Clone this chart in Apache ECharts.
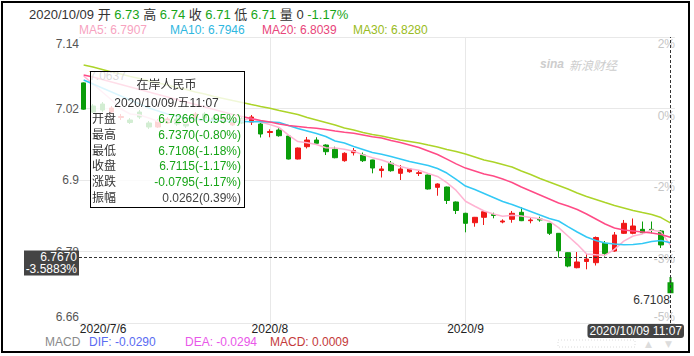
<!DOCTYPE html>
<html><head><meta charset="utf-8">
<script src="https://cdn.jsdelivr.net/npm/echarts@6/dist/echarts.min.js"></script>
<style>
html,body{margin:0;padding:0;background:#fff;}
#wrap{position:relative;width:694px;height:356px;overflow:hidden;background:#fff;}
#chart{position:absolute;left:0;top:0;width:684px;height:356px;}
#frame{position:absolute;left:1px;top:1px;width:689px;height:352px;border:2px solid #000;box-sizing:border-box;pointer-events:none;}
</style></head>
<body><div id="wrap"><div id="chart"></div><div id="frame"></div></div>
<script>
const FONT = '"Liberation Sans", Arial, "Noto Sans CJK SC", sans-serif';

const dates = [
'2020/07/06','2020/07/07','2020/07/08','2020/07/09','2020/07/10','2020/07/13','2020/07/14','2020/07/15','2020/07/16','2020/07/17',
'2020/07/20','2020/07/21','2020/07/22','2020/07/23','2020/07/24','2020/07/27','2020/07/28','2020/07/29','2020/07/30','2020/07/31',
'2020/08/03','2020/08/04','2020/08/05','2020/08/06','2020/08/07','2020/08/10','2020/08/11','2020/08/12','2020/08/13','2020/08/14',
'2020/08/17','2020/08/18','2020/08/19','2020/08/20','2020/08/21','2020/08/24','2020/08/25','2020/08/26','2020/08/27','2020/08/28',
'2020/08/31','2020/09/01','2020/09/02','2020/09/03','2020/09/04','2020/09/07','2020/09/08','2020/09/09','2020/09/10','2020/09/11',
'2020/09/14','2020/09/15','2020/09/16','2020/09/17','2020/09/18','2020/09/21','2020/09/22','2020/09/23','2020/09/24','2020/09/25',
'2020/09/28','2020/09/29','2020/09/30','2020/10/09'];

const open = [
7.0630,7.0242,7.0275,7.0141,7.0049,7.0007,7.0141,6.9957,6.9889,6.9957,
7.0024,6.9940,7.0007,7.0108,7.0040,6.9973,6.9923,7.0024,6.9973,6.9940,
6.9797,6.9839,6.9738,6.9352,6.9559,6.9671,6.9587,6.9515,6.9324,6.9458,
6.9419,6.9336,6.9159,6.9280,6.9112,6.9139,6.9109,6.9084,6.8877,6.8882,
6.8631,6.8441,6.8283,6.8374,6.8421,6.8295,6.8340,6.8458,6.8317,6.8345,
6.8273,6.8105,6.7780,6.7528,6.7632,6.7612,6.7937,6.7808,6.8105,6.8105,
6.8172,6.8172,6.8144,6.7266];
const close = [
7.0189,7.0141,7.0175,7.0208,7.0066,6.9965,7.0057,6.9889,6.9990,7.0024,
6.9940,6.9906,7.0108,7.0040,6.9990,7.0040,6.9990,6.9957,7.0057,6.9772,
6.9814,6.9743,6.9352,6.9537,6.9671,6.9616,6.9475,6.9374,6.9448,6.9495,
6.9324,6.9201,6.9185,6.9156,6.9185,6.9185,6.9122,6.8849,6.8933,6.8656,
6.8488,6.8273,6.8374,6.8468,6.8404,6.8312,6.8441,6.8317,6.8329,6.8329,
6.8105,6.7813,6.7556,6.7624,6.7674,6.8035,6.7766,6.8077,6.8273,6.8228,
6.8115,6.8161,6.7910,6.7115];
const low = [
7.0180,7.0124,7.0141,7.0108,7.0007,6.9940,7.0024,6.9856,6.9873,6.9940,
6.9906,6.9873,6.9990,7.0007,6.9957,6.9940,6.9906,6.9940,6.9923,6.9713,
6.9717,6.9727,6.9345,6.9345,6.9529,6.9587,6.9419,6.9364,6.9307,6.9411,
6.9302,6.9112,6.9042,6.9139,6.9000,6.9122,6.9067,6.8840,6.8736,6.8597,
6.8429,6.8122,6.8216,6.8245,6.8357,6.8273,6.8283,6.8310,6.8273,6.8300,
6.8077,6.7696,6.7535,6.7518,6.7501,6.7565,6.7716,6.7796,6.8094,6.8089,
6.8094,6.8105,6.7859,6.7108];
const high = [
7.0637,7.0275,7.0309,7.0242,7.0108,7.0040,7.0175,6.9990,7.0024,7.0057,
7.0057,6.9990,7.0141,7.0141,7.0074,7.0074,7.0024,7.0057,7.0091,6.9957,
6.9851,6.9868,6.9745,6.9545,6.9722,6.9717,6.9600,6.9559,6.9465,6.9537,
6.9461,6.9340,6.9235,6.9319,6.9252,6.9190,6.9168,6.9090,6.8944,6.8890,
6.8640,6.8450,6.8380,6.8485,6.8451,6.8340,6.8480,6.8542,6.8374,6.8384,
6.8280,6.8110,6.7785,6.7791,6.7758,6.8052,6.7976,6.8127,6.8329,6.8354,
6.8303,6.8303,6.8161,6.7370];

const ma5 = [
7.0745,7.0611,7.0477,7.0343,7.0192,7.0108,7.0091,7.0040,6.9982,6.9990,
6.9973,6.9948,6.9990,6.9999,6.9990,7.0007,7.0032,7.0007,7.0035,6.9975,
6.9930,6.9880,6.9752,6.9645,6.9625,6.9595,6.9540,6.9536,6.9515,6.9484,
6.9422,6.9375,6.9336,6.9280,6.9225,6.9190,6.9163,6.9110,6.9060,6.8955,
6.8825,6.8643,6.8560,6.8480,6.8430,6.8390,6.8410,6.8395,6.8370,6.8350,
6.8308,6.8200,6.8060,6.7920,6.7760,6.7745,6.7738,6.7835,6.7975,6.8060,
6.8095,6.8160,6.8130,6.7907];
const ma10 = [
7.0678,7.0611,7.0544,7.0477,7.0410,7.0343,7.0275,7.0208,7.0158,7.0108,
7.0074,7.0040,7.0024,7.0007,6.9999,6.9990,6.9982,6.9982,6.9978,6.9978,
6.9973,6.9965,6.9915,6.9864,6.9822,6.9780,6.9730,6.9655,6.9621,6.9562,
6.9512,6.9461,6.9431,6.9394,6.9352,6.9310,6.9277,6.9243,6.9193,6.9117,
6.9010,6.8899,6.8840,6.8773,6.8706,6.8639,6.8589,6.8530,6.8471,6.8412,
6.8354,6.8312,6.8219,6.8127,6.8043,6.7984,6.7943,6.7926,6.7914,6.7917,
6.7934,6.7968,6.7984,6.7946];
const ma20 = [
7.0762,7.0729,7.0687,7.0645,7.0603,7.0561,7.0519,7.0477,7.0435,7.0393,
7.0351,7.0309,7.0267,7.0225,7.0183,7.0141,7.0099,7.0066,7.0032,6.9999,
6.9973,6.9940,6.9915,6.9898,6.9881,6.9868,6.9847,6.9822,6.9800,6.9785,
6.9755,6.9725,6.9705,6.9663,6.9629,6.9587,6.9545,6.9487,6.9428,6.9350,
6.9270,6.9200,6.9151,6.9101,6.9067,6.9017,6.8958,6.8882,6.8815,6.8748,
6.8681,6.8614,6.8564,6.8505,6.8429,6.8345,6.8261,6.8194,6.8161,6.8144,
6.8127,6.8110,6.8085,6.8039];
const ma30 = [
7.0930,7.0896,7.0855,7.0813,7.0779,7.0737,7.0703,7.0662,7.0628,7.0594,
7.0552,7.0519,7.0477,7.0443,7.0401,7.0368,7.0334,7.0301,7.0267,7.0234,
7.0203,7.0166,7.0133,7.0099,7.0049,7.0007,6.9965,6.9923,6.9873,6.9839,
6.9797,6.9764,6.9738,6.9705,6.9671,6.9646,6.9621,6.9587,6.9554,6.9512,
6.9478,6.9436,6.9386,6.9336,6.9302,6.9260,6.9218,6.9151,6.9092,6.9025,
6.8966,6.8908,6.8849,6.8782,6.8723,6.8673,6.8622,6.8572,6.8530,6.8488,
6.8454,6.8421,6.8370,6.8280];

const yTickValues = [6.66, 6.78, 6.9, 7.02, 7.14];
const yTickLabels = ['6.66', '6.78', '6.9', '7.02', '7.14'];
const pctTickLabels = ['-5%', '-3%', '-2%', '0%', '2%'];
const xTickIndex = [0, 20, 41];
const xTickLabels = ['2020/7/6', '2020/8', '2020/9'];
const monthLineIndex = [20, 41];
const crossPrice = 6.7670;
const crossPct = '-3.5883%';
const lastTime = '11:07';
const lastWeekday = '五';
const volume = 0;
const macdDIF = '-0.0290', macdDEA = '-0.0294', macdVal = '0.0009';

const RED = '#f01818', GREEN = '#0a9d0a', TXTG = '#18a518';
const C5 = '#f7a3bf', C10 = '#2fb7df', C20 = '#e8457a', C30 = '#9dc126';

const last = dates.length - 1;
const prev = close[last - 1];
const f2 = v => v.toFixed(2), f4 = v => v.toFixed(4);
const pctOf = (v, base) => ((v / base - 1) * 100).toFixed(2) + '%';
const tickIdx = v => yTickValues.findIndex(t => Math.abs(t - v) < 1e-6);

const kData = dates.map((d, i) => [open[i], close[i], low[i], high[i]]);

const hd = {fontSize: 13, lineHeight: 14, fontFamily: FONT, color: '#333'};
const hg = {fontSize: 13, lineHeight: 14, fontFamily: FONT, color: TXTG};
const headerText = `{d|${dates[last]}} {d|开} {g|${f2(open[last])}} {d|高} {g|${f2(high[last])}} {d|收} {g|${f2(close[last])}} {d|低} {g|${f2(low[last])}} {d|量} {d|${volume}} {g|${pctOf(close[last], prev)}}`;

function smallTitle(left, top, text, color) {
  return {left, top, padding: 0, text,
    textStyle: {fontSize: 12, lineHeight: 12, fontWeight: 'normal', color, fontFamily: FONT}};
}

const option = {
  animation: false,
  textStyle: {fontFamily: FONT},
  title: [
    {left: 29, top: 7, padding: 0, text: headerText,
     textStyle: {fontSize: 13, lineHeight: 14, fontWeight: 'normal', color: '#333', fontFamily: FONT, rich: {d: hd, g: hg}}},
    smallTitle(79, 24, 'MA5: ' + f4(ma5[last]), C5),
    smallTitle(170, 24, 'MA10: ' + f4(ma10[last]), C10),
    smallTitle(262, 24, 'MA20: ' + f4(ma20[last]), C20),
    smallTitle(353, 24, 'MA30: ' + f4(ma30[last]), '#99bb22'),
    smallTitle(45, 336, 'MACD', '#8a8a8a'),
    smallTitle(89, 336, 'DIF: ' + macdDIF, '#5a6cf2'),
    smallTitle(185, 336, 'DEA: ' + macdDEA, '#e957e9'),
    smallTitle(270, 336, 'MACD: ' + macdVal, '#c43a3a')
  ],
  grid: {left: 79, right: 9, top: 37, bottom: 33, containLabel: false, outerBoundsMode: 'none'},
  xAxis: {
    type: 'category', data: dates, boundaryGap: true,
    axisLine: {show: false}, axisTick: {show: false},
    axisLabel: {
      interval: (i) => xTickIndex.indexOf(i) >= 0,
      margin: 0, color: '#222', fontSize: 12, fontFamily: FONT,
      formatter: (v, i) => {
        const k = xTickIndex.indexOf(i);
        const t = k >= 0 ? xTickLabels[k] : '';
        return k === 0 ? '{f|' + t + '}' : t;
      },
      rich: {f: {padding: [0, 0, 0, 39], fontSize: 12, color: '#222', fontFamily: FONT}}
    },
    splitLine: {show: true, alignWithLabel: true, interval: (i) => monthLineIndex.indexOf(i) >= 0,
      lineStyle: {color: '#e8e8e8', width: 1}},
    axisPointer: {
      lineStyle: {color: '#333', width: 1, type: [3, 2]},
      label: {show: true, margin: 1, backgroundColor: '#444', color: '#fff', fontSize: 12, fontFamily: FONT,
        padding: [1, 2, 1, 2], formatter: (p) => p.value + ' ' + lastTime}
    }
  },
  yAxis: [
    {
      type: 'value', min: 6.66, max: 7.14, interval: 0.12, position: 'left',
      axisLine: {show: false}, axisTick: {show: false},
      splitLine: {lineStyle: {color: '#e8e8e8', width: 1}},
      axisLabel: {
        margin: 0, color: '#555', fontSize: 12, fontFamily: FONT,
        formatter: (v) => {
          const k = tickIdx(v); const t = k >= 0 ? yTickLabels[k] : '';
          if (k === yTickValues.length - 1) return '{t|' + t + '}';
          if (k === 0) return '{b|' + t + '}';
          return t;
        },
        rich: {
          t: {padding: [14, 0, 0, 0], fontSize: 12, color: '#555', fontFamily: FONT},
          b: {padding: [0, 0, 12, 0], fontSize: 12, color: '#555', fontFamily: FONT}
        }
      },
      axisPointer: {show: false}
    },
    {
      type: 'value', min: 6.66, max: 7.14, interval: 0.12, position: 'right',
      axisLine: {show: false}, axisTick: {show: false}, splitLine: {show: false},
      axisLabel: {
        inside: true, margin: 0, color: '#c6c6c6', fontSize: 12, fontFamily: FONT,
        formatter: (v) => {
          const k = tickIdx(v); const t = k >= 0 ? pctTickLabels[k] : '';
          return k === 0 ? '{b|' + t + '}' : '{t|' + t + '}';
        },
        rich: {
          t: {padding: [14, 0, 0, 0], fontSize: 12, color: '#c6c6c6', fontFamily: FONT},
          b: {padding: [0, 0, 12, 0], fontSize: 12, color: '#c6c6c6', fontFamily: FONT}
        }
      },
      axisPointer: {show: false}
    }
  ],
  tooltip: {
    trigger: 'axis', triggerOn: 'none', alwaysShowContent: true, showContent: true,
    position: [90, 71], transitionDuration: 0,
    backgroundColor: 'rgba(255,255,255,0.82)', borderColor: '#000', borderWidth: 1, borderRadius: 0,
    padding: [3, 3, 0, 1],
    extraCssText: 'box-shadow:none;border-radius:0;',
    textStyle: {fontSize: 12, color: '#333', fontFamily: FONT},
    axisPointer: {
      type: 'cross', animation: false,
      lineStyle: {color: '#333', width: 1, type: [3, 2]},
      crossStyle: {color: '#333', width: 1, type: [3, 2]},
      label: {backgroundColor: '#444', color: '#fff', fontSize: 12, padding: [1, 2, 1, 2]}
    },
    formatter: (params) => {
      const i = params[0].dataIndex;
      const p = close[i - 1];
      const chg = close[i] - p, amp = high[i] - low[i];
      const rows = [
        ['开盘', f4(open[i]) + '(' + pctOf(open[i], p) + ')', TXTG],
        ['最高', f4(high[i]) + '(' + pctOf(high[i], p) + ')', TXTG],
        ['最低', f4(low[i]) + '(' + pctOf(low[i], p) + ')', TXTG],
        ['收盘', f4(close[i]) + '(' + pctOf(close[i], p) + ')', TXTG],
        ['涨跌', f4(chg) + '(' + pctOf(close[i], p) + ')', TXTG],
        ['振幅', f4(amp) + '(' + (amp / p * 100).toFixed(2) + '%)', '#444']
      ];
      let h = '<div style="width:149px;font-size:12px;font-family:' + FONT.replace(/"/g, "'") + ';color:#333;">';
      h += '<div style="text-align:center;height:20px;line-height:20px;">在岸人民币</div>';
      h += '<div style="text-align:center;height:17px;line-height:17px;">' + dates[i] + '/' + lastWeekday + lastTime + '</div>';
      rows.forEach(r => {
        h += '<div style="display:flex;justify-content:space-between;height:15.8px;line-height:15.8px;"><span>' + r[0] +
             '</span><span style="color:' + r[2] + '">' + r[1] + '</span></div>';
      });
      return h + '</div>';
    }
  },
  series: [
    {
      type: 'candlestick', name: '在岸人民币', data: kData, barWidth: 5, clip: false,
      itemStyle: {color: RED, color0: GREEN, borderColor: RED, borderColor0: GREEN, borderWidth: 1},
      markPoint: {
        symbol: 'circle', symbolSize: 1, silent: true, animation: false,
        itemStyle: {color: 'rgba(0,0,0,0)'},
        label: {show: true, color: '#333', fontSize: 12, fontFamily: FONT, formatter: p => Number(p.value).toFixed(4)},
        data: [
          {type: 'max', valueDim: 'highest', label: {position: 'right', distance: 5, offset: [0, -6]}},
          {type: 'min', valueDim: 'lowest', label: {position: 'left', distance: 0, offset: [0, 7]}}
        ]
      },
      markLine: {
        silent: true, animation: false, symbol: ['none', 'none'],
        lineStyle: {color: '#333', width: 1, type: [3, 2]},
        label: {
          show: true, position: 'start', distance: 0,
          formatter: () => '{e| }\n{a|' + f4(crossPrice) + '}\n{a|' + crossPct + '}',
          rich: {
            e: {fontSize: 10, lineHeight: 11, color: 'rgba(0,0,0,0)'},
            a: {backgroundColor: '#444', color: '#fff', fontSize: 12, lineHeight: 12, fontFamily: FONT,
                padding: [1, 2, 0, 2], width: 51, align: 'right'}
          }
        },
        data: [{yAxis: crossPrice}]
      }
    },
    {type: 'line', name: 'MA5', data: ma5, symbol: 'none', silent: true, lineStyle: {width: 1.5, color: C5}, itemStyle: {color: C5}},
    {type: 'line', name: 'MA10', data: ma10, symbol: 'none', silent: true, lineStyle: {width: 1.5, color: C10}, itemStyle: {color: C10}},
    {type: 'line', name: 'MA20', data: ma20, symbol: 'none', silent: true, lineStyle: {width: 1.5, color: C20}, itemStyle: {color: C20}},
    {type: 'line', name: 'MA30', data: ma30, symbol: 'none', silent: true, lineStyle: {width: 1.5, color: C30}, itemStyle: {color: C30}}
  ],
  graphic: [
    {type: 'text', left: 540, top: 58, silent: true, style: {text: 'sina', fill: '#cdcdcd', font: 'italic bold 12px ' + FONT}},
    {type: 'text', left: 569, top: 58, silent: true, style: {text: '新浪财经', fill: '#cdcdcd', font: 'italic 12px "Noto Sans CJK SC", sans-serif'}},
    {type: 'rect', silent: true, shape: {x: 558, y: 340, width: 77, height: 7}, style: {fill: 'none', stroke: '#dcdcdc', lineDash: [1, 2]}},
    {type: 'text', silent: true, x: 645, y: 339, style: {text: '▲', fill: '#dcdcdc', font: '9px "DejaVu Sans", sans-serif'}},
    {type: 'text', silent: true, x: 665, y: 339, style: {text: '▼', fill: '#dcdcdc', font: '9px "DejaVu Sans", sans-serif'}}
  ]
};

const chart = echarts.init(document.getElementById('chart'), null, {renderer: 'svg', width: 684, height: 356});
chart.setOption(option);
const pt = chart.convertToPixel({xAxisIndex: 0, yAxisIndex: 0}, [last, crossPrice]);
chart.dispatchAction({type: 'showTip', x: pt[0], y: pt[1]});
</script>
</body></html>
